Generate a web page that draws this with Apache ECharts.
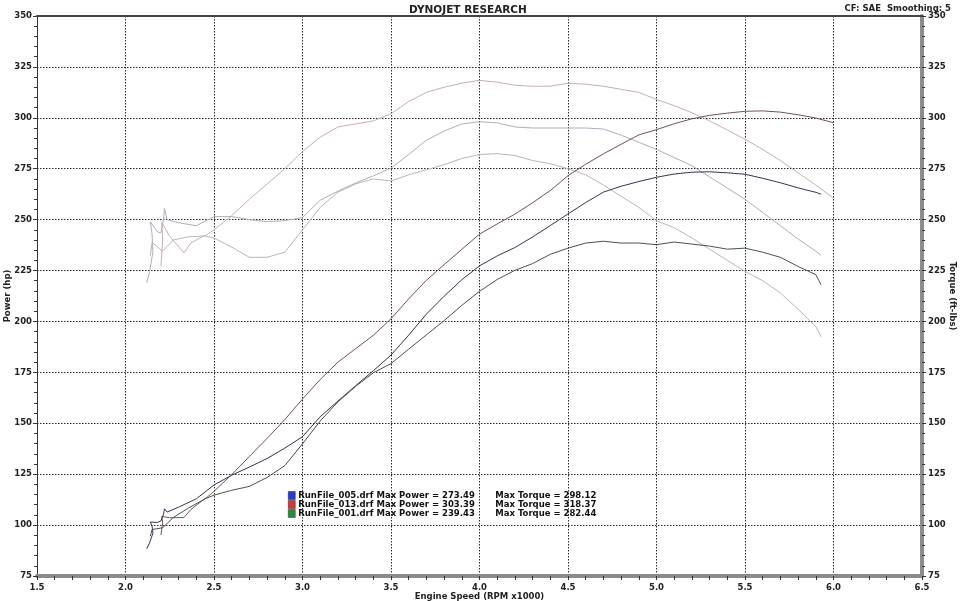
<!DOCTYPE html>
<html>
<head>
<meta charset="utf-8">
<title>Dynojet Research</title>
<script src="https://cdn.jsdelivr.net/npm/echarts@6.0.0/dist/echarts.min.js"></script>
<style>
    html, body { margin: 0; padding: 0; background: #ffffff; }
    #chart { width: 960px; height: 601px; }
</style>
</head>
<body>
<div id="chart"></div>
<script>
// runs shown in the legend
var runNames = ["RunFile_005.drf", "RunFile_013.drf", "RunFile_001.drf"];
var maxPower = ["273.49", "303.39", "239.43"];
var maxTorque = ["298.12", "318.37", "282.44"];

// RunFile_013 (rpm x1000, hp, ft-lbs)
var rpm013 = [2.20, 2.21, 2.205, 2.25, 2.33, 2.37, 2.42, 2.46,
    2.5, 2.6, 2.7, 2.8, 2.9, 3.0, 3.1, 3.2, 3.3, 3.4, 3.5, 3.6, 3.7, 3.8, 3.9, 4.0,
    4.1, 4.2, 4.3, 4.4, 4.5, 4.6, 4.7, 4.8, 4.9, 5.0, 5.1, 5.2, 5.3, 5.4, 5.5, 5.6,
    5.7, 5.8, 5.9, 6.0];
var hp013 = [95.1, 101, 104.3, 103.6, 103.7, 107.7, 111.1, 113.6,
    116.6, 124.8, 133.7, 142.6, 151.8, 161.9, 171.5, 180.0, 186.6, 193.2, 201.3, 211.1, 220.2, 227.9, 235.4, 242.9,
    247.9, 252.7, 258.3, 264.3, 271.6, 277.2, 282.3, 287.0, 291.6, 294.2, 297.1, 299.5, 301.2, 302.3, 303.2, 303.4,
    302.8, 301.5, 299.9, 297.6];
var tq013 = [227, 240, 248.5, 241.8, 233.7, 238.6, 241, 242.6,
    245, 252, 260, 267.5, 275, 283.5, 290.5, 295.5, 297, 298.5, 302, 308, 312.5, 315, 317, 318.4,
    317.5, 316, 315.5, 315.5, 317, 316.5, 315.5, 314, 312.5, 309, 306, 302.5, 298.5, 294, 289.5, 284.5,
    279, 273, 267, 260.5];

// RunFile_005
var rpm005 = [2.12, 2.135, 2.155, 2.15, 2.14, 2.18, 2.20, 2.215, 2.22, 2.235, 2.3, 2.4,
    2.5, 2.6, 2.7, 2.8, 2.9, 3.0, 3.1, 3.2, 3.3, 3.4, 3.5, 3.6, 3.7, 3.8, 3.9, 4.0,
    4.1, 4.2, 4.3, 4.4, 4.5, 4.6, 4.7, 4.8, 4.9, 5.0, 5.1, 5.2, 5.3, 5.4, 5.5, 5.6,
    5.7, 5.8, 5.9, 5.93];
var hp005 = [88.4, 91.1, 96.0, 99.5, 101.5, 101.3, 102.0, 105.4, 108.0, 106.4, 108.8, 112.9,
    119.7, 124.5, 128.5, 132.7, 137.8, 143.4, 153.2, 160.9, 168.4, 175.8, 183.5, 193.3, 203.6, 212.4, 220.5, 227.3,
    232.2, 236.3, 241.5, 247.1, 252.8, 258.4, 263.5, 266.4, 268.7, 270.8, 272.4, 273.3, 273.5, 273.0, 272.3, 270.3,
    268.1, 265.6, 263.4, 262.5];
var tq005 = [219, 224, 234, 243, 249, 244, 243.5, 250, 255.5, 250, 248.5, 247,
    251.5, 251.5, 250, 249, 249.5, 251, 259.5, 264, 268, 271.5, 275.3, 282, 289, 293.5, 297, 298.1,
    297.5, 295.5, 295, 295, 295, 295, 294.5, 291.5, 288, 284.5, 280.5, 276.5, 271, 265.5, 260, 253.5,
    247, 240.5, 234.5, 232.5];

// RunFile_001
var rpm001 = [2.14, 2.15, 2.21, 2.27, 2.35, 2.45,
    2.5, 2.6, 2.7, 2.8, 2.9, 3.0, 3.1, 3.2, 3.3, 3.4, 3.5, 3.6, 3.7, 3.8, 3.9, 4.0,
    4.1, 4.2, 4.3, 4.4, 4.5, 4.6, 4.7, 4.8, 4.9, 5.0, 5.1, 5.2, 5.3, 5.4, 5.5, 5.6,
    5.7, 5.8, 5.9, 5.93];
var hp001 = [94.5, 97.8, 98.7, 103.7, 108.1, 112.9,
    114.7, 117.1, 119.0, 123.4, 129.2, 139.9, 151.1, 160.5, 168.1, 174.8, 179.3, 186.4, 193.4, 200.4, 207.9, 214.8,
    220.6, 225.1, 228.4, 233, 236, 238.5, 239.4, 238.5, 238.5, 237.7, 239, 238, 237, 235.5, 236, 234,
    231.5, 227, 223, 218];
var tq001 = [232, 238.8, 234.5, 240, 241.5, 242,
    241, 236.5, 231.5, 231.5, 234, 245, 256, 263.5, 267.5, 270, 269, 272, 274.5, 277, 280, 282,
    282.4, 281.5, 279, 277.5, 275, 272, 267, 261.5, 256, 249.5, 246, 241, 235.5, 230, 224.6, 220,
    214, 206, 197.5, 192.5];

var axisFont = "DejaVu Sans";

function pairs(rpm, values) {
    var out = [];
    for (var i = 0; i < rpm.length; i++)
        out.push([rpm[i], values[i]]);
    return out;
}

function curve(name, rpm, values, axis, color) {
    return {
        name: name,
        type: "line",
        yAxisIndex: axis,
        showSymbol: false,
        symbol: "none",
        smooth: false,
        silent: true,
        lineStyle: { color: color, width: 1 },
        itemStyle: { color: color },
        data: pairs(rpm, values)
    };
}

var chart = echarts.init(document.getElementById("chart"), null, { renderer: "canvas" });

var labelStyle = { fontFamily: axisFont, fontSize: 8.5, fontWeight: "bold", color: "#222" };
var gridDots = { show: true, lineStyle: { color: "#2a2a2a", width: 1, type: [1.5, 1.5] } };

var options = {
    backgroundColor: "#ffffff",
    animation: false,
    title: [
        {
            text: "DYNOJET RESEARCH",
            left: 404, top: 0,
            textStyle: { fontFamily: axisFont, fontSize: 10.5, fontWeight: "bold", color: "#222" }
        },
        {
            text: "CF: SAE  Smoothing: 5",
            right: 4, top: -1,
            textStyle: { fontFamily: axisFont, fontSize: 8.5, fontWeight: "bold", color: "#222" }
        }
    ],
    grid: { left: 37, right: 38, top: 16, bottom: 25, outerBoundsMode: "none", containLabel: false },
    legend: {
        orient: "vertical",
        left: 283, top: 486,
        itemWidth: 7, itemHeight: 8, itemGap: 0,
        icon: "rect",
        selectedMode: false,
        data: [
            { name: runNames[0], itemStyle: { color: "#2a3cc8", borderColor: "#1a1a50", borderWidth: 0.5 } },
            { name: runNames[1], itemStyle: { color: "#cc3a3a", borderColor: "#501a1a", borderWidth: 0.5 } },
            { name: runNames[2], itemStyle: { color: "#2e8a3a", borderColor: "#1a401a", borderWidth: 0.5 } }
        ],
        formatter: function (name) {
            var i = runNames.indexOf(name);
            return "{a|" + name + " Max Power = " + maxPower[i] + "}{b|Max Torque = " + maxTorque[i] + "}";
        },
        textStyle: {
            fontFamily: axisFont, fontSize: 8.5, fontWeight: "bold", color: "#111",
            padding: [0, 0, 0, -2],
            rich: {
                a: { width: 197, fontFamily: axisFont, fontSize: 8.5, fontWeight: "bold", color: "#111" },
                b: { fontFamily: axisFont, fontSize: 8.5, fontWeight: "bold", color: "#111" }
            }
        }
    },
    xAxis: [
        {
            type: "value", min: 1.5, max: 6.5, interval: 0.5,
            axisLine: { show: true, onZero: false, lineStyle: { color: "#8c8c8c", width: 4 } },
            axisTick: { show: true, length: 4, lineStyle: { color: "#333" } },
            minorTick: { show: true, splitNumber: 5, length: 4, lineStyle: { color: "#333" } },
            splitLine: gridDots,
            axisLabel: Object.assign({ margin: 7, formatter: function (v) { return v.toFixed(1); } }, labelStyle),
            name: "Engine Speed (RPM x1000)",
            nameLocation: "middle", nameGap: 16, nameMoveOverlap: false,
            nameTextStyle: labelStyle
        },
        {
            type: "value", min: 1.5, max: 6.5, position: "top",
            axisLine: { show: true, onZero: false, lineStyle: { color: "#444", width: 2 } },
            axisTick: { show: false }, axisLabel: { show: false }, splitLine: { show: false }
        }
    ],
    yAxis: [
        {
            type: "value", min: 75, max: 350, interval: 25,
            axisLine: { show: true, onZero: false, lineStyle: { color: "#333", width: 1 } },
            axisTick: { show: true, length: 4, lineStyle: { color: "#333" } },
            minorTick: { show: true, splitNumber: 5, length: 3, lineStyle: { color: "#333" } },
            splitLine: gridDots,
            axisLabel: Object.assign({ margin: 5 }, labelStyle),
            name: "Power (hp)",
            nameLocation: "middle", nameGap: 25, nameRotate: 90, nameMoveOverlap: false,
            nameTextStyle: labelStyle
        },
        {
            type: "value", min: 75, max: 350, interval: 25, position: "right",
            axisLine: { show: true, onZero: false, lineStyle: { color: "#8c8c8c", width: 4 } },
            axisTick: { show: true, length: 4, lineStyle: { color: "#333" } },
            minorTick: { show: true, splitNumber: 5, length: 3, lineStyle: { color: "#333" } },
            splitLine: { show: false },
            axisLabel: Object.assign({ margin: 6 }, labelStyle),
            name: "Torque (ft-lbs)",
            nameLocation: "middle", nameGap: 26, nameRotate: -90, nameMoveOverlap: false,
            nameTextStyle: labelStyle
        }
    ],
    series: [
        // torque curves, pale
        curve("tq013", rpm013, tq013, 1, "#c7afb2"),
        curve("tq005", rpm005, tq005, 1, "#aeaebe"),
        curve("tq001", rpm001, tq001, 1, "#b4bab4"),
        // power curves, dark
        curve(runNames[1], rpm013, hp013, 0, "#74505a"),
        curve(runNames[0], rpm005, hp005, 0, "#34344e"),
        curve(runNames[2], rpm001, hp001, 0, "#45564a")
    ]
};

chart.setOption(options);
</script>
</body>
</html>
